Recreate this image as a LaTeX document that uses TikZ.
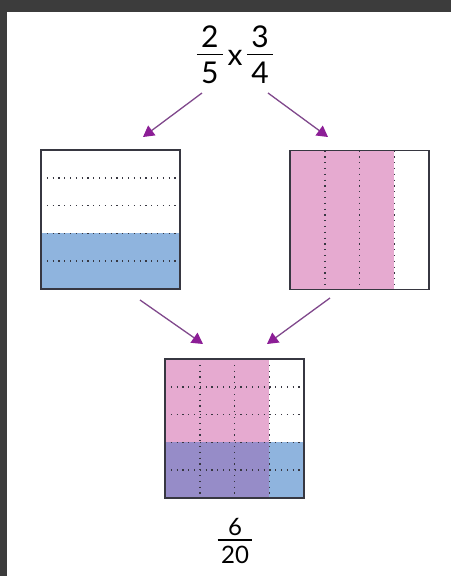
\documentclass[tikz,border=0pt]{standalone}
\usepackage{fontspec}
\setmainfont{Lato}
\usetikzlibrary{arrows.meta,positioning,calc,backgrounds}
\definecolor{framegray}{HTML}{3C3C3C}
\definecolor{gridgray}{RGB}{55,55,65}
\definecolor{fillblue}{RGB}{143,180,222}
\definecolor{fillpink}{RGB}{230,170,208}
\definecolor{fillmix}{RGB}{150,140,200}
\definecolor{arrline}{RGB}{128,72,140}
\definecolor{arrtip}{RGB}{140,30,150}
% a fraction drawn as a small table with a rule between the rows
\newcommand{\stackfrac}[2]{{\setlength{\arrayrulewidth}{0.055em}%
  \begin{tabular}{@{\hspace{0.14em}}c@{\hspace{0.14em}}}#1\\[-0.14em]\hline\rule{0pt}{0.94em}#2\end{tabular}}}

\begin{document}
\begin{tikzpicture}[x=1pt, y=-1pt,
  box/.style={draw=gridgray, line width=1.6pt, minimum width=139pt, minimum height=139pt, inner sep=0pt, outer sep=0pt},
  dots/.style={gridgray, line width=1.5pt, dash pattern=on 1.2pt off 4.6pt},
  arr/.style={-{Triangle[length=11pt, width=12pt, color=arrtip]}, line width=1.3pt, draw=arrline}]
\useasboundingbox (0,0) rectangle (451,576);
% question and answer
\node[font=\fontsize{30}{33}\selectfont, inner sep=0pt] (prob) at (235,59) {\stackfrac{2}{5}\hspace{0.16em}x\hspace{0.16em}\stackfrac{3}{4}};
\node[font=\fontsize{24}{26}\selectfont, inner sep=0pt] (res) at (235,544) {\stackfrac{6}{20}};
% the three squares
\node[box] (fifths) at (110.5,219.5) {};
\node[box] (fourths) at (359.5,220) {};
\node[box] (prod) at (234.5,428.5) {};
\begin{scope}[on background layer]
  \fill[white] (0,0) rectangle (451,576);
  \fill[framegray] (0,0) rectangle (451,12);
  \fill[framegray] (0,0) rectangle (7,576);
  \fill[fillblue] ($(fifths.north west)!0.6!(fifths.south west)$) rectangle (fifths.south east);
  \fill[fillpink] (fourths.north west) rectangle ($(fourths.south west)!0.75!(fourths.south east)$);
  \fill[fillpink] (prod.north west) rectangle ($(prod.north west)+(104.25,83.4)$);
  \fill[fillmix] ($(prod.north west)+(0,83.4)$) rectangle ($(prod.south west)!0.75!(prod.south east)$);
  \fill[fillblue] ($(prod.north west)+(104.25,83.4)$) rectangle (prod.south east);
\end{scope}
\foreach \i in {1,...,4}
  \draw[dots] ($(fifths.north west)!\i/5!(fifths.south west)$) -- ($(fifths.north east)!\i/5!(fifths.south east)$);
\foreach \i in {1,2,3}
  \draw[dots] ($(fourths.north west)!\i/4!(fourths.north east)$) -- ($(fourths.south west)!\i/4!(fourths.south east)$);
\foreach \i in {1,...,4}
  \draw[dots] ($(prod.north west)!\i/5!(prod.south west)$) -- ($(prod.north east)!\i/5!(prod.south east)$);
\foreach \i in {1,2,3}
  \draw[dots] ($(prod.north west)!\i/4!(prod.north east)$) -- ($(prod.south west)!\i/4!(prod.south east)$);
% arrows
\coordinate (qL) at (202,93);
\coordinate (qR) at (268,93);
\coordinate (inL) at (143,137);
\coordinate (inR) at (328,137);
\coordinate (outL) at (140,300);
\coordinate (outR) at (330,298);
\coordinate (pL) at (203,344);
\coordinate (pR) at (267,344);
\draw[arr] (qL) -- (inL);
\draw[arr] (qR) -- (inR);
\draw[arr] (outL) -- (pL);
\draw[arr] (outR) -- (pR);
\end{tikzpicture}
\end{document}
